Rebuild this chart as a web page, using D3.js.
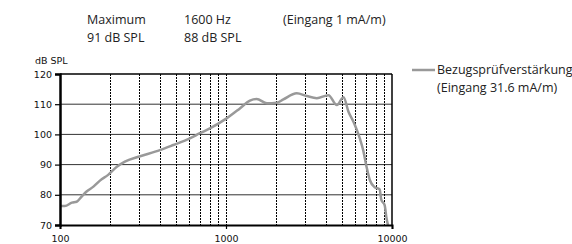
<!DOCTYPE html>
<html>
<head>
<meta charset="utf-8">
<script src="https://cdn.jsdelivr.net/npm/d3@7"></script>
<style>
  body { margin: 0; background: #fff; }
  svg { display: block; }
  .hdr { font-family: "Open Sans", "DejaVu Sans", sans-serif; font-size: 12.5px; fill: #222; }
  .tick-lbl { font-family: "DejaVu Sans", sans-serif; font-size: 9.5px; fill: #111; }
</style>
</head>
<body>
<div id="chart"></div>
<script>
// response curve: frequency (Hz) and level (dB SPL)
const freqs = [100, 107, 118, 126, 135, 144, 159, 174, 195, 220, 246, 297,
  400, 482, 606, 697, 800, 1008, 1212, 1393, 1530, 1765, 2025, 2216, 2667,
  3068, 3525, 4144, 4654, 5105, 5467, 5857, 6138, 6422, 6705, 7023, 7351,
  7873, 8428, 8624, 9030, 9240, 9455];
const levels = [76.3, 76.3, 77.4, 77.7, 79.4, 81, 82.7, 84.7, 86.6, 89.3, 91, 92.6,
  94.8, 96.5, 98.7, 100.4, 102, 105.3, 108.6, 111.2, 111.7, 110.3, 110.5, 111.6, 113.6,
  112.7, 112, 113, 109.7, 112.3, 107.5, 104.2, 101.5, 98.4, 94.8, 89.3, 84.9,
  82.5, 81.8, 78.3, 76.6, 72.7, 70];

const yTicks = [70, 80, 90, 100, 110, 120];
const xTicks = [100, 1000, 10000];
const xGrid = [200, 300, 400, 500, 600, 700, 800, 900, 1000, 2000, 3000, 4000, 5000, 6000, 7000, 8000, 9000];

const headerCols = [
  ["Maximum", "91 dB SPL"],
  ["1600 Hz", "88 dB SPL"],
  ["(Eingang 1 mA/m)"]
];
const legendLines = ["Bezugsprüfverstärkung", "(Eingang 31.6 mA/m)"];

const width = 572, height = 244;
const plot = { left: 60, right: 392, top: 74, bottom: 225 };

const svg = d3.select("#chart").append("svg")
  .attr("width", width).attr("height", height);

const x = d3.scaleLog().domain([100, 10000]).range([plot.left, plot.right]);
const y = d3.scaleLinear().domain([70, 120]).range([plot.bottom, plot.top]);

// header text
const headerX = [87, 184, 283];
headerCols.forEach((col, i) => {
  col.forEach((t, j) => {
    svg.append("text").attr("class", "hdr")
      .attr("x", headerX[i]).attr("y", 24 + j * 18).text(t);
  });
});

// horizontal grid
svg.append("g").selectAll("line").data(yTicks.slice(1)).enter()
  .append("line")
    .attr("x1", plot.left).attr("x2", plot.right)
    .attr("y1", d => y(d)).attr("y2", d => y(d))
    .style("stroke", d => d === 120 ? "#000" : "#333")
    .style("stroke-width", d => d === 120 ? 1.5 : 1);

// vertical dotted grid
svg.append("g").selectAll("line").data(xGrid).enter()
  .append("line")
    .attr("x1", d => Math.round(x(d)) + 0.5).attr("x2", d => Math.round(x(d)) + 0.5)
    .attr("y1", plot.top).attr("y2", plot.bottom)
    .style("stroke", "#000")
    .style("stroke-width", 1)
    .style("stroke-dasharray", "2,1");

// right border
svg.append("line")
  .attr("x1", plot.right).attr("x2", plot.right)
  .attr("y1", plot.top).attr("y2", plot.bottom)
  .style("stroke", "#000").style("stroke-width", 1.5);

// curve
const line = d3.line()
  .x((d, i) => x(freqs[i]))
  .y(d => y(d))
  .curve(d3.curveMonotoneX);
svg.append("path")
  .datum(levels)
  .attr("d", line)
  .style("fill", "none")
  .style("stroke", "#999")
  .style("stroke-width", 2.5)
  .style("stroke-linejoin", "round");

// axes
const yAxis = svg.append("g")
  .attr("transform", `translate(${plot.left},0)`)
  .call(d3.axisLeft(y).tickValues(yTicks).tickSize(5).tickPadding(3));
yAxis.select(".domain").style("stroke-width", 2.5);
yAxis.selectAll("text").attr("class", "tick-lbl").attr("font-family", null).attr("font-size", null);
yAxis.selectAll(".tick line").style("stroke-width", 1.2);

const xAxis = svg.append("g")
  .attr("transform", `translate(0,${plot.bottom})`)
  .call(d3.axisBottom(x).tickValues(xTicks).tickFormat(d3.format("d")).tickSize(4).tickPadding(6));
xAxis.select(".domain").style("stroke-width", 2);
xAxis.selectAll("text").attr("class", "tick-lbl").attr("font-family", null).attr("font-size", null);
xAxis.selectAll(".tick line").style("stroke-width", 1.2);

svg.append("text").attr("class", "tick-lbl")
  .attr("x", 35).attr("y", 64).text("dB SPL");

// legend
svg.append("line")
  .attr("x1", 412).attr("x2", 435).attr("y1", 70).attr("y2", 70)
  .style("stroke", "#999").style("stroke-width", 2.5);
legendLines.forEach((t, i) => {
  svg.append("text").attr("class", "hdr")
    .attr("x", 437).attr("y", 74 + i * 18).text(t);
});
</script>
</body>
</html>
